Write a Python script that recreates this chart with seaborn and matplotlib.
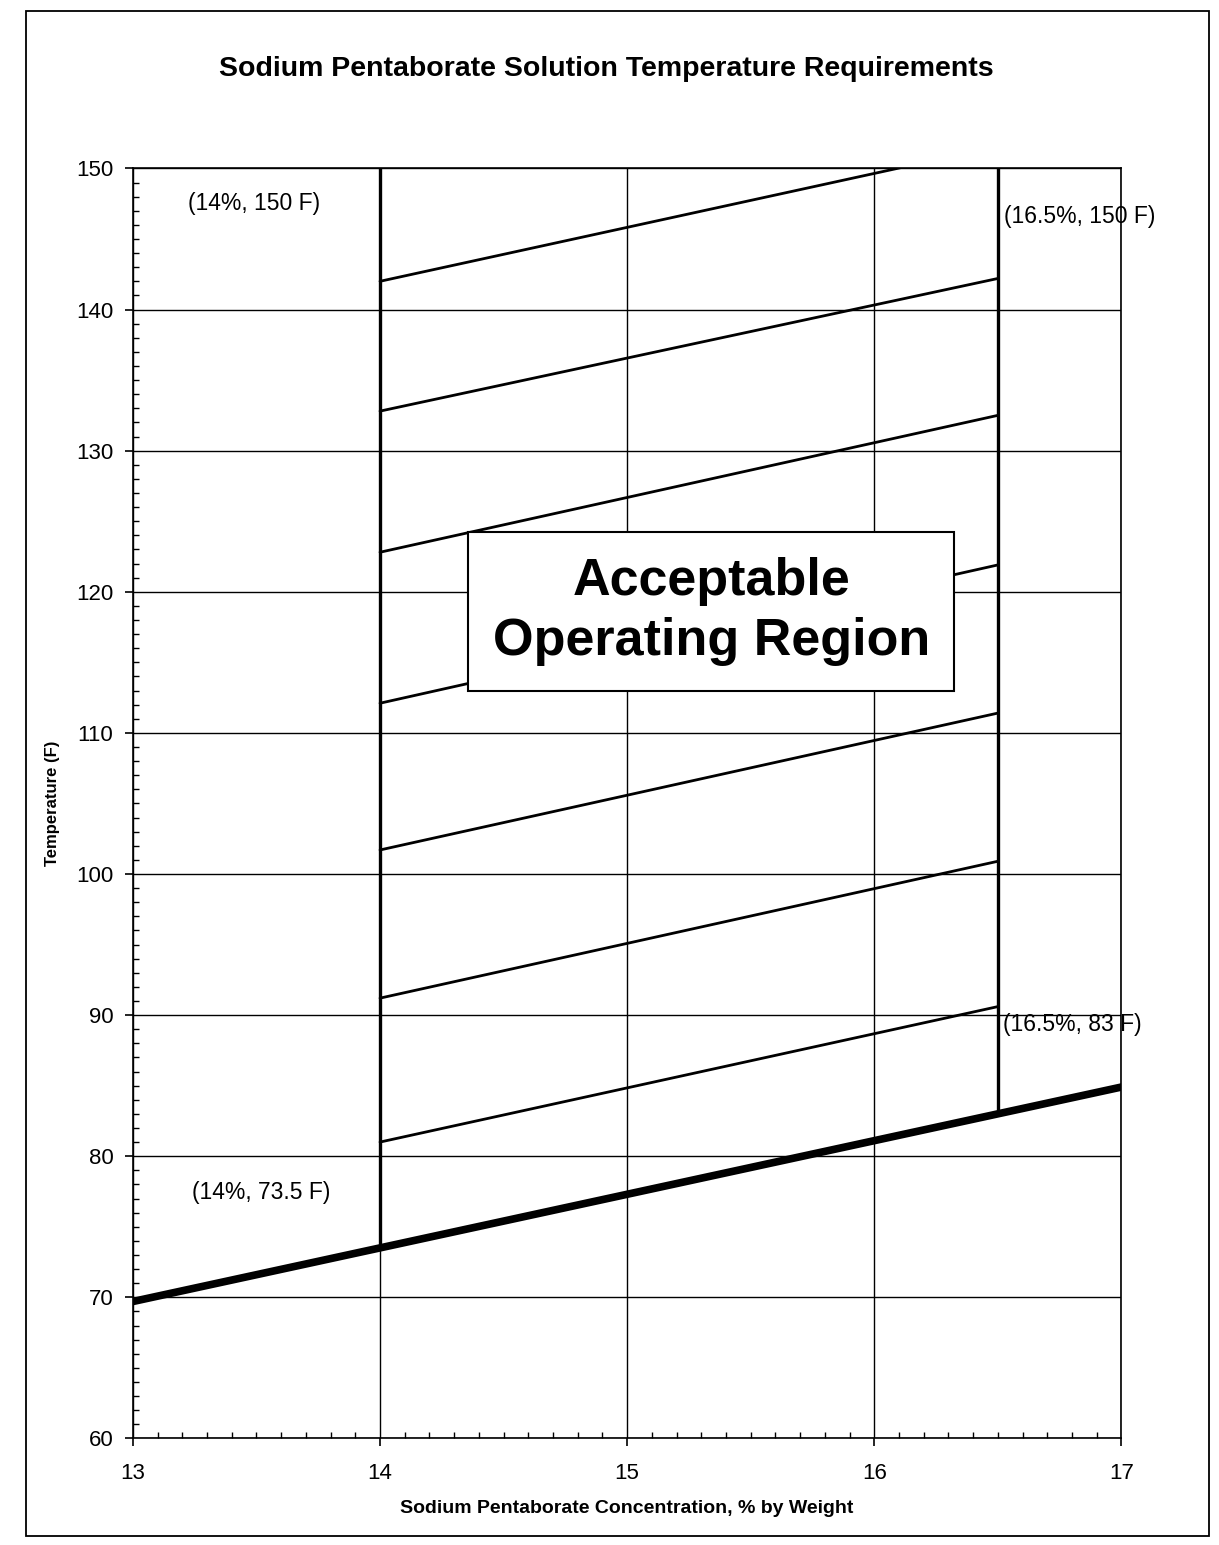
import matplotlib
matplotlib.use("Agg")
import matplotlib.pyplot as plt
from matplotlib.ticker import MultipleLocator
from matplotlib.patches import Rectangle
import seaborn as sns
import pandas as pd

# Saturation curve (minimum temperature)
conc = [13.0, 14.0, 16.5, 17.0]
temp_min = [69.7, 73.5, 83.0, 84.9]

# Concentration limits of the operating region
conc_limits = [14.0, 16.5]
temp_max = 150.0

# Hatching lines inside the region (start at 14 %, end at right edge)
hatch_y_start = [81.0, 91.2, 101.7, 112.1, 122.8, 132.8, 142.0]
hatch_x_end = [16.5, 16.5, 16.5, 16.5, 16.5, 16.5, 16.25]
hatch_y_end = [90.6, 100.9, 111.4, 121.9, 132.5, 142.2, 150.6]

# Point labels
label_text = ["(14%, 150 F)", "(16.5%, 150 F)", "(16.5%, 83 F)", "(14%, 73.5 F)"]
label_x = [13.49, 16.83, 16.80, 13.52]
label_y = [147.5, 146.6, 89.3, 77.4]

x_ticks = [13, 14, 15, 16, 17]
y_ticks = list(range(60, 151, 10))

sns.set_style("ticks")
plt.rcParams['font.family'] = ['Liberation Sans', 'DejaVu Sans']
plt.rcParams['text.color'] = 'black'
plt.rcParams['axes.labelcolor'] = 'black'

fig = plt.figure(figsize=(12.19, 15.45), dpi=100)
ax = fig.add_axes([0.109, 0.069, 0.811, 0.822])

# page frame
fig.patches.append(Rectangle((0.021, 0.006), 0.971, 0.987, transform=fig.transFigure,
                             fill=False, edgecolor='black', linewidth=1.3))

ax.set_xlim(13, 17)
ax.set_ylim(60, 150)
ax.set_xticks(x_ticks)
ax.set_yticks(y_ticks)
ax.xaxis.set_minor_locator(MultipleLocator(0.1))
ax.yaxis.set_minor_locator(MultipleLocator(1))
ax.grid(True, which='major', color='black', linewidth=1.0)
for s in ax.spines.values():
    s.set_color('black')
    s.set_linewidth(1.2)
ax.tick_params(which='major', direction='out', length=6, width=1.2, color='black',
               labelsize=16, labelcolor='black')
ax.tick_params(axis='x', which='major', pad=12)
ax.tick_params(axis='y', which='major', pad=8)
ax.tick_params(which='minor', direction='in', length=4, width=1.0, color='black')

# saturation line
df = pd.DataFrame({'conc': conc, 'temp': temp_min})
sns.lineplot(data=df, x='conc', y='temp', color='black', linewidth=5.5, ax=ax, zorder=4)

# vertical limits
for c in conc_limits:
    lo = temp_min[conc.index(c)]
    sns.lineplot(x=[c, c], y=[lo, temp_max], color='black', linewidth=2.4, ax=ax,
                 estimator=None, sort=False, zorder=3)

# hatching
for ys, xe, ye in zip(hatch_y_start, hatch_x_end, hatch_y_end):
    sns.lineplot(x=[conc_limits[0], xe], y=[ys, ye], color='black', linewidth=2.0,
                 ax=ax, estimator=None, sort=False, zorder=3)

for t, x, y in zip(label_text, label_x, label_y):
    ax.text(x, y, t, ha='center', va='center', fontsize=16.5, zorder=5)

ax.text(15.34, 118.6, "Acceptable\nOperating Region", ha='center', va='center',
        fontsize=37.5, fontweight='bold', linespacing=1.3, zorder=6,
        bbox=dict(boxstyle='square,pad=0.47', facecolor='white', edgecolor='black',
                  linewidth=1.5))

ax.set_xlabel("Sodium Pentaborate Concentration, % by Weight", fontsize=14,
              fontweight='bold', labelpad=11)
ax.set_ylabel("Temperature (F)", fontsize=12, fontweight='bold', labelpad=12)
fig.suptitle("Sodium Pentaborate Solution Temperature Requirements", fontsize=20.5,
             fontweight='bold', x=0.497, y=0.964)

fig.savefig("out.png", dpi=100)
